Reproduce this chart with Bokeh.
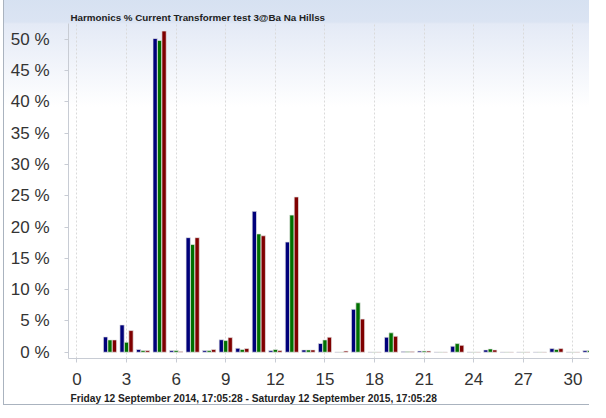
from bokeh.plotting import figure
from bokeh.models import FixedTicker, PrintfTickFormatter, Title, Range1d
from bokeh.embed import file_html
from bokeh.resources import INLINE

title_text = "Harmonics % Current Transformer test 3@Ba Na Hillss"
footer_text = "Friday 12 September 2014, 17:05:28 - Saturday 12 September 2015, 17:05:28"

harmonics = list(range(2, 32))
phase_blue = [2.45, 4.36, 0.43, 50.1, 0.27, 18.3, 0.27, 2.0, 0.64, 22.5, 0.27, 17.6, 0.37, 1.4, 0.05,
              6.86, 0.05, 2.4, 0.1, 0.2, 0.05, 0.96, 0.05, 0.37, 0.05, 0.05, 0.05, 0.58, 0.05, 0.27]
phase_green = [1.97, 1.6, 0.27, 49.8, 0.27, 17.2, 0.27, 1.86, 0.43, 18.9, 0.43, 21.9, 0.37, 1.97, 0.05,
               7.9, 0.05, 3.1, 0.1, 0.2, 0.05, 1.38, 0.05, 0.53, 0.05, 0.05, 0.05, 0.43, 0.05, 0.27]
phase_red = [1.97, 3.46, 0.27, 51.3, 0.1, 18.3, 0.43, 2.34, 0.59, 18.6, 0.27, 24.8, 0.37, 2.4, 0.2,
             5.3, 0.05, 2.55, 0.1, 0.2, 0.05, 1.1, 0.05, 0.37, 0.05, 0.05, 0.05, 0.58, 0.05, 0.27]
x_ticks = list(range(0, 31, 3))
y_ticks = list(range(0, 51, 5))

series = [(phase_blue, "#00007a", -0.27), (phase_green, "#007000", 0.0), (phase_red, "#7f0000", 0.27)]

p = figure(width=586, height=409, output_backend="svg", toolbar_location=None,
           x_range=Range1d(-0.51, 31.06), y_range=Range1d(-1.0, 52.5),
           min_border_left=64, min_border_right=0, min_border_top=26, min_border_bottom=47,
           styles={"background": "linear-gradient(#d6e1f1 0px, #dbe4f3 25px, #e4eaf6 27px, #ffffff 110px)",
                   "border-left": "1px solid #aab3bf",
                   "border-top": "1px solid #aab3bf",
                   "border-bottom": "1px solid #aab3bf",
                   "margin-top": "-4px",
                   "margin-left": "3px",
                   "margin-bottom": "-5px"})
p.background_fill_alpha = 0
p.border_fill_alpha = 0
p.outline_line_color = None

for vals, col, off in series:
    p.vbar(x=[h + off for h in harmonics], top=vals, bottom=0, width=0.26,
           fill_color=col, line_color="#e8e8e8", line_width=0.7)

p.title.text = title_text
p.title.align = "left"
p.title.offset = 2
p.title.text_font = "Liberation Sans"
p.title.text_font_size = "9.8px"
p.title.text_font_style = "bold"
p.title.text_color = "#222222"
p.title.standoff = 1

foot = Title(text=footer_text, align="left", offset=2, text_font="Liberation Sans",
             text_font_size="10.2px", text_font_style="bold", text_color="#222222", standoff=6)
p.add_layout(foot, "below")

p.xaxis.ticker = FixedTicker(ticks=x_ticks)
p.yaxis.ticker = FixedTicker(ticks=y_ticks)
p.yaxis.formatter = PrintfTickFormatter(format="%d %%")

for ax in (p.xaxis, p.yaxis):
    ax.axis_line_color = "#c8ccd4"
    ax.major_tick_line_color = "#c8ccd4"
    ax.minor_tick_line_color = None
    ax.major_tick_in = 0
    ax.major_tick_out = 4
    ax.major_label_text_font = "Liberation Sans"
    ax.major_label_text_font_size = "17px"
    ax.major_label_text_color = "#333333"
p.yaxis.major_label_standoff = 15
p.xaxis.major_label_standoff = 10

p.xgrid.ticker = FixedTicker(ticks=x_ticks)
p.xgrid.grid_line_color = "#dadada"
p.xgrid.grid_line_dash = "2 2"
p.ygrid.grid_line_color = None

open("out.html", "w").write(file_html(p, INLINE))
